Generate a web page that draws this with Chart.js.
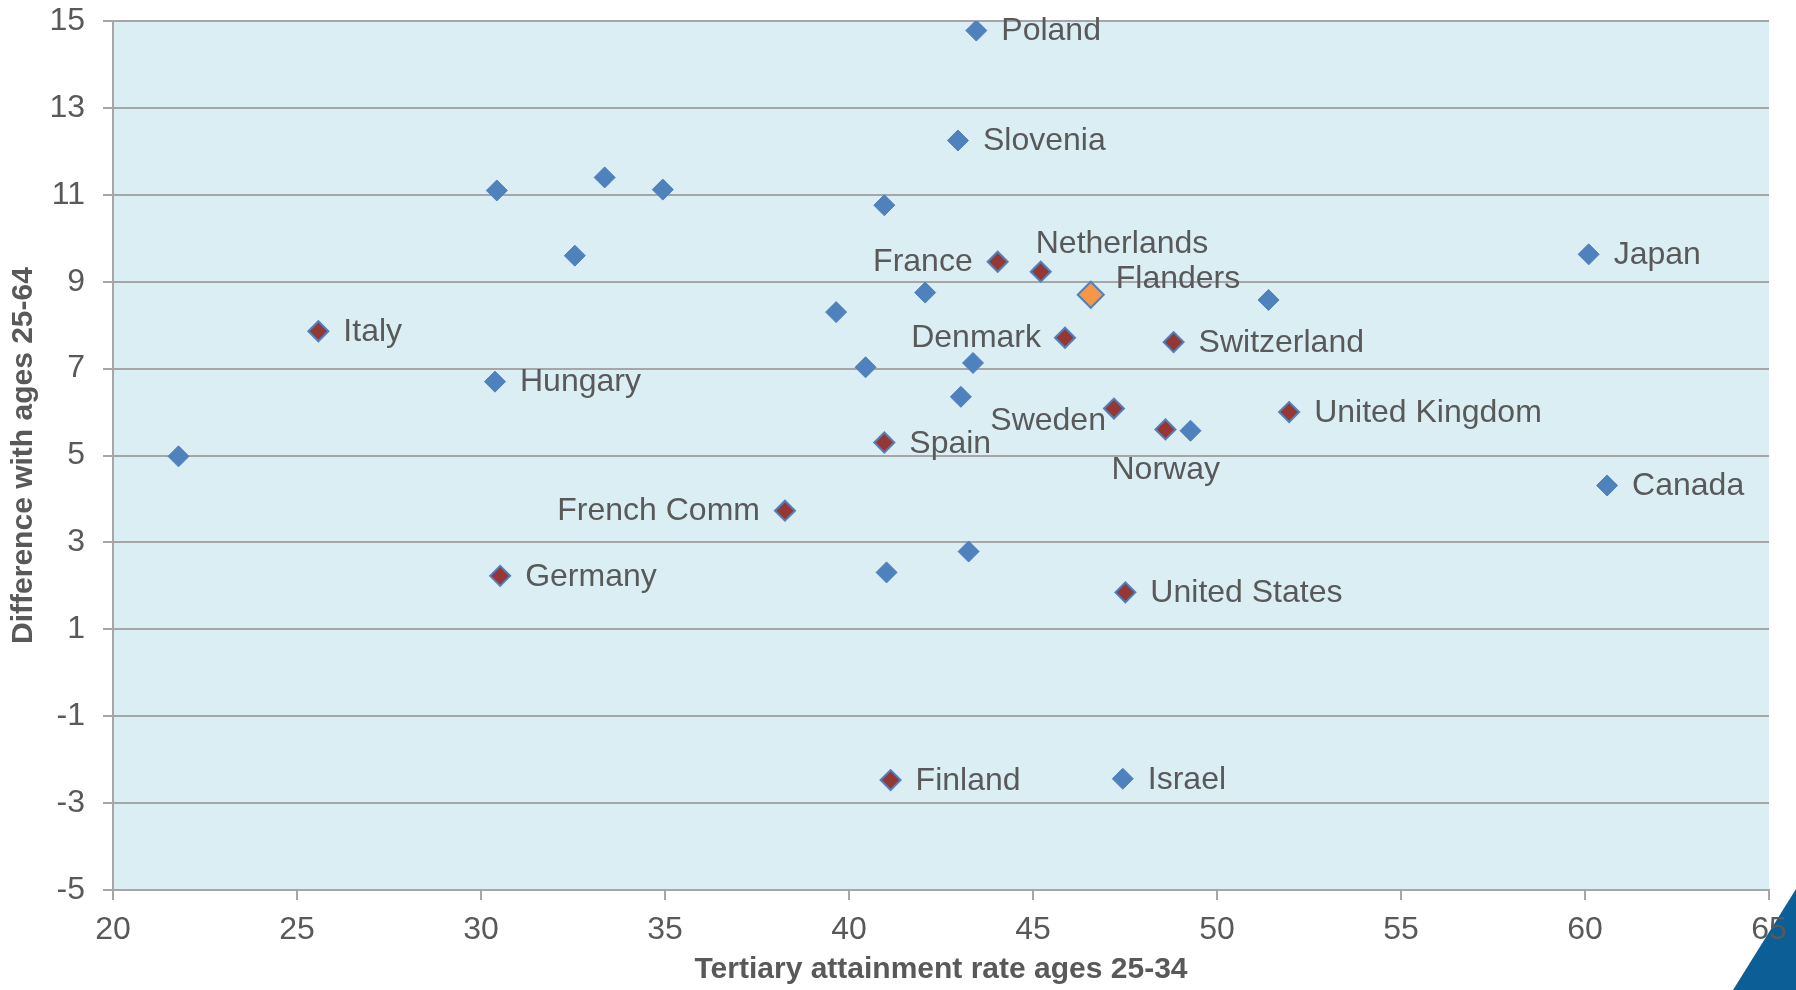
<!DOCTYPE html>
<html>
<head>
<meta charset="utf-8">
<script src="https://cdn.jsdelivr.net/npm/chart.js@4/dist/chart.umd.min.js"></script>
<style>
  html, body { margin: 0; padding: 0; background: #ffffff; }
  #wrap { width: 1796px; height: 990px; position: relative; }
</style>
</head>
<body>
<div id="wrap"><canvas id="c" width="1796" height="990"></canvas></div>
<script>
// ---- Data ----
const blueLabels = ['Poland', 'Slovenia', '', '', '', '', '', 'Japan', '', '', '', 'Hungary', '', '', '', '', '', 'Canada', '', '', 'Israel'];
const blueX = [43.46, 42.96, 30.43, 33.36, 34.94, 40.96, 32.55, 60.10, 42.07, 39.65, 51.40, 30.38, 40.45, 43.37, 43.04, 49.28, 21.78, 60.60, 43.25, 41.02, 47.44];
const blueY = [14.78, 12.25, 11.10, 11.40, 11.12, 10.76, 9.60, 9.63, 8.75, 8.30, 8.58, 6.70, 7.03, 7.13, 6.35, 5.57, 4.98, 4.31, 2.79, 2.31, -2.44];

const redLabels = ['Italy', 'France', 'Netherlands', 'Denmark', 'Switzerland', 'Sweden', 'United Kingdom', 'Norway', 'Spain', 'French Comm', 'Germany', 'United States', 'Finland'];
const redX = [25.58, 44.04, 45.21, 45.87, 48.82, 47.20, 51.96, 48.60, 40.96, 38.26, 30.52, 47.51, 41.13];
const redY = [7.86, 9.46, 9.23, 7.71, 7.61, 6.08, 6.00, 5.60, 5.30, 3.73, 2.23, 1.85, -2.47];

const flandersLabels = ['Flanders'];
const flandersX = [46.57];
const flandersY = [8.70];

const xTickValues = [20, 25, 30, 35, 40, 45, 50, 55, 60, 65];
const yTickValues = [-5, -3, -1, 1, 3, 5, 7, 9, 11, 13, 15];

const xTitle = 'Tertiary attainment rate ages 25-34';
const yTitle = 'Difference with ages 25-64';

// ---- Label placement (styling, not data) ----
const labelPlacement = {
  'France':      { align: 'right', dx: -25, dy: 0 },
  'Denmark':     { align: 'right', dx: -24, dy: 0 },
  'French Comm': { align: 'right', dx: -25, dy: 0 },
  'Sweden':      { align: 'right', dx: -8,  dy: 13 },
  'Netherlands': { align: 'left',  dx: -5,  dy: -28 },
  'Flanders':    { align: 'left',  dx: 25,  dy: -16 },
  'Norway':      { align: 'left',  dx: -54, dy: 41 },
  'Spain':       { align: 'left',  dx: 25,  dy: 2 }
};
const defaultPlacement = { align: 'left', dx: 25, dy: 1 };

const TEXT = '#595959';
const FONT = "'Liberation Sans', Arial, sans-serif";

function toPoints(xs, ys) { return xs.map((x, i) => ({ x: x, y: ys[i] })); }

const bgPlugin = {
  id: 'bg',
  beforeDraw(chart) {
    const ctx = chart.ctx;
    const a = chart.chartArea;
    ctx.save();
    // decorative corner triangle
    ctx.fillStyle = '#0b5e96';
    ctx.beginPath();
    ctx.moveTo(1733, 990);
    ctx.lineTo(1796, 889);
    ctx.lineTo(1796, 990);
    ctx.closePath();
    ctx.fill();
    // plot panel
    ctx.fillStyle = '#DAEEF3';
    ctx.fillRect(a.left, a.top, a.right - a.left, a.bottom - a.top);
    ctx.restore();
  }
};

const labelPlugin = {
  id: 'pointLabels',
  afterDatasetsDraw(chart) {
    const ctx = chart.ctx;
    ctx.save();
    ctx.font = '32px ' + FONT;
    ctx.fillStyle = TEXT;
    ctx.textBaseline = 'middle';
    chart.data.datasets.forEach((ds, di) => {
      const meta = chart.getDatasetMeta(di);
      (ds.pointLabels || []).forEach((name, i) => {
        if (!name) return;
        const el = meta.data[i];
        const p = labelPlacement[name] || defaultPlacement;
        ctx.textAlign = p.align;
        ctx.fillText(name, el.x + p.dx, el.y + p.dy);
      });
    });
    ctx.restore();
  }
};

new Chart(document.getElementById('c'), {
  type: 'scatter',
  data: {
    datasets: [
      {
        label: 'Other countries',
        data: toPoints(blueX, blueY),
        pointLabels: blueLabels,
        pointStyle: 'rectRot',
        pointRadius: 10.5,
        backgroundColor: '#4F81BD',
        borderColor: '#4F81BD',
        borderWidth: 1,
        order: 3
      },
      {
        label: 'Comparison countries',
        data: toPoints(redX, redY),
        pointLabels: redLabels,
        pointStyle: 'rectRot',
        pointRadius: 10,
        backgroundColor: '#953735',
        borderColor: '#4F81BD',
        borderWidth: 2,
        order: 2
      },
      {
        label: 'Flanders',
        data: toPoints(flandersX, flandersY),
        pointLabels: flandersLabels,
        pointStyle: 'rectRot',
        pointRadius: 13,
        backgroundColor: '#F79646',
        borderColor: '#4F81BD',
        borderWidth: 2,
        order: 1
      }
    ]
  },
  options: {
    responsive: false,
    animation: false,
    devicePixelRatio: 1,
    layout: { padding: { top: 21, right: 27, bottom: 0, left: 0 } },
    plugins: {
      legend: { display: false },
      tooltip: { enabled: false }
    },
    scales: {
      x: {
        type: 'linear',
        min: 20, max: 65,
        afterBuildTicks(scale) { scale.ticks = xTickValues.map(v => ({ value: v })); },
        afterFit(scale) { scale.height = 100; scale.paddingLeft = 0; scale.paddingRight = 0; },
        grid: { display: true, drawOnChartArea: false, drawTicks: true, tickLength: 10, color: '#A6A6A6', lineWidth: 2 },
        border: { display: true, color: '#A6A6A6', width: 2 },
        ticks: { color: TEXT, font: { family: FONT, size: 32 }, padding: 11, maxRotation: 0 },
        title: { display: true, text: xTitle, color: TEXT, font: { family: FONT, size: 30, weight: 'bold' }, padding: { top: 0, bottom: 2 } }
      },
      y: {
        type: 'linear',
        min: -5, max: 15,
        afterBuildTicks(scale) { scale.ticks = yTickValues.map(v => ({ value: v })); },
        afterFit(scale) { scale.width = 113; scale.paddingTop = 0; scale.paddingBottom = 0; },
        grid: { display: true, drawOnChartArea: true, drawTicks: true, tickLength: 10, color: '#A6A6A6', lineWidth: 2 },
        border: { display: true, color: '#A6A6A6', width: 2 },
        ticks: { color: TEXT, font: { family: FONT, size: 32 }, padding: 18 },
        title: { display: true, text: yTitle, color: TEXT, font: { family: FONT, size: 30, weight: 'bold' }, padding: { top: 6, bottom: 0 } }
      }
    }
  },
  plugins: [bgPlugin, labelPlugin]
});
</script>
</body>
</html>
